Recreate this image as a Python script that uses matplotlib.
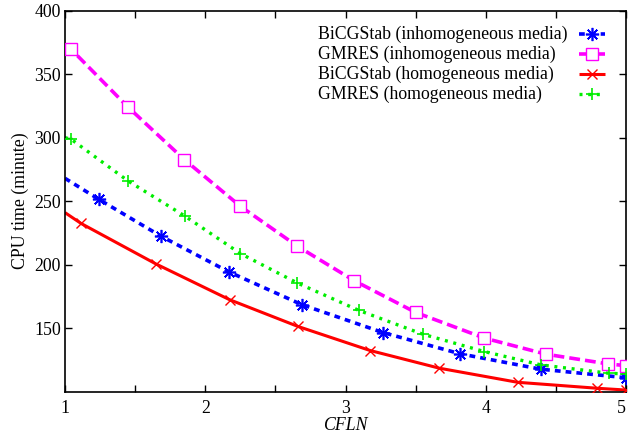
import matplotlib
matplotlib.use("Agg")
import matplotlib.pyplot as plt
from matplotlib.lines import Line2D
from matplotlib.ticker import MultipleLocator

plt.rcParams['font.family'] = ['Liberation Serif', 'DejaVu Serif']

# --- data ---
bicg_inh_x = [1.0, 1.242, 1.683, 2.169, 2.689, 3.266, 3.818, 4.393, 5.0]
bicg_inh_y = [268, 251.4, 222.5, 194.3, 168.5, 146.6, 129.8, 117.7, 111]

gmres_inh_x = [1.0, 1.04, 1.446, 1.85, 2.25, 2.656, 3.06, 3.50, 3.99, 4.43, 4.87, 5.0]
gmres_inh_y = [372, 370, 324.4, 282.8, 246, 214.6, 187.5, 162.4, 142.2, 129.5, 121.9, 120.5]

bicg_hom_x = [1.0, 1.114, 1.648, 2.174, 2.66, 3.176, 3.669, 4.227, 4.796, 5.0]
bicg_hom_y = [241, 232.5, 200.6, 172.4, 151.4, 132.4, 118.5, 107.4, 102.7, 101.3]

gmres_hom_x = [1.0, 1.043, 1.45, 1.854, 2.25, 2.656, 3.095, 3.55, 3.989, 4.393, 4.879, 5.0]
gmres_hom_y = [300, 298.8, 265.9, 238.3, 208.8, 185.6, 164, 145.3, 131.6, 121.1, 114.5, 114]

labels = ["BiCGStab (inhomogeneous media)", "GMRES (inhomogeneous media)",
          "BiCGStab (homogeneous media)", "GMRES (homogeneous media)"]
x_ticks = [1, 2, 3, 4, 5]
y_ticks = [150, 200, 250, 300, 350, 400]

fig = plt.figure(figsize=(6.28, 4.38), dpi=100)
ax = fig.add_axes([0.1035, 0.1057, 0.8935, 0.87])

blue, mag, red, green = (0, 0, 1), (1, 0, 1), (1, 0, 0), (0, 0.93, 0)
aster = (8, 2, 0)

styles = [
    dict(color=blue, lw=2.6, dashes=(1.6, 1.4), marker=aster, ms=9.5, mew=1.2,
         mfc='none'),
    dict(color=mag, lw=2.6, dashes=(3.0, 1.4), marker='s', ms=8, mew=1.0,
         mfc='white'),
    dict(color=red, lw=2.2, linestyle='-', marker='x', ms=7.5, mew=1.0,
         mfc='none'),
    dict(color=green, lw=2.4, dashes=(0.9, 1.7), marker='+', ms=8.5, mew=1.2,
         mfc='none'),
]
series = [(bicg_inh_x, bicg_inh_y, 1), (gmres_inh_x, gmres_inh_y, 1),
          (bicg_hom_x, bicg_hom_y, 1), (gmres_hom_x, gmres_hom_y, 1)]

line_keys = ('color', 'lw', 'dashes', 'linestyle')
for (xs, ys, m0), st in zip(series, styles):
    line_kw = {k: v for k, v in st.items() if k in line_keys}
    ax.plot(xs, ys, solid_capstyle='butt', dash_capstyle='butt', **line_kw)
    ax.plot(xs[m0:], ys[m0:], linestyle='none', marker=st['marker'], ms=st['ms'],
            mew=st['mew'], mec=st['color'], mfc=st['mfc'], zorder=3)

ax.set_xlim(1, 5)
ax.set_ylim(100, 400)
ax.set_xticks(x_ticks)
ax.xaxis.set_minor_locator(MultipleLocator(0.5))
ax.set_yticks(y_ticks)
ax.tick_params(which='both', direction='in', top=True, right=True, length=5,
               width=1, labelsize=12.8)
ax.tick_params(axis='y', pad=3)
ax.tick_params(axis='x', pad=6)
ax.get_xticklabels()[-1].set_horizontalalignment('right')
for s in ax.spines.values():
    s.set_linewidth(1.2)

ax.set_xlabel("CFLN", fontstyle='italic', fontsize=12.8, labelpad=0)
ax.set_ylabel("CPU time (minute)", fontsize=12.8, labelpad=4)

# legend: left-aligned text with the line sample on the right
row_y = [0.938, 0.886, 0.833, 0.781]
for lab, st, yy in zip(labels, styles, row_y):
    ax.text(0.451, yy, lab, transform=ax.transAxes, ha='left', va='center',
            fontsize=12.8)
    line_kw = {k: v for k, v in st.items() if k in line_keys}
    h = Line2D([0.916, 0.939, 0.9626], [yy, yy, yy], transform=ax.transAxes,
               marker=st['marker'], ms=st['ms'], mew=st['mew'], mec=st['color'],
               mfc=st['mfc'], markevery=[1], solid_capstyle='butt',
               dash_capstyle='butt', **line_kw)
    ax.add_line(h)

fig.savefig("out.png", dpi=100)
